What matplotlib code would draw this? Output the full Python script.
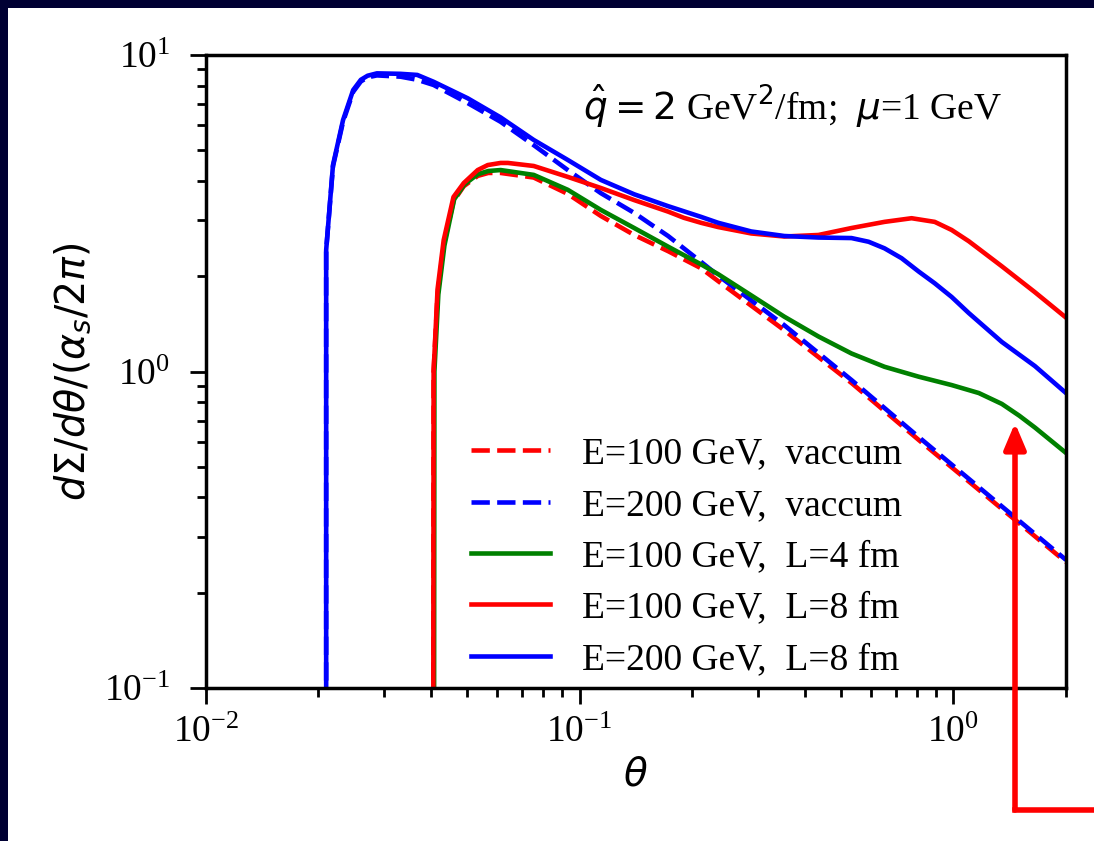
import matplotlib
matplotlib.use('Agg')
import matplotlib.pyplot as plt
from matplotlib.lines import Line2D
from matplotlib.patches import Rectangle, FancyArrowPatch

# curve values
theta_vac200 = [0.0210, 0.0210, 0.0219, 0.0233, 0.0248, 0.0260, 0.0271, 0.0287, 0.0332, 0.0368, 0.0407,
                0.0502, 0.0615, 0.0754, 0.0930, 0.114, 0.140, 0.155, 0.1725, 0.2113, 0.2348,
                0.3529, 0.5337, 0.807, 2.0]
vac200 = [0.05, 2.42, 4.45, 6.15, 7.65, 8.25, 8.5, 8.62, 8.54, 8.35, 8.04,
          7.05, 6.15, 5.19, 4.33, 3.66, 3.17, 2.92, 2.68, 2.22, 2.01,
          1.40, 0.94, 0.621, 0.254]

theta_vac100 = [0.0406, 0.0407, 0.0417, 0.0433, 0.0460, 0.0490, 0.0534, 0.0570, 0.0615, 0.0754,
                0.0930, 0.114, 0.140, 0.1725, 0.2113, 0.2348, 0.3529, 0.5337, 0.807, 2.0]
vac100 = [0.05, 1.0, 1.75, 2.5, 3.45, 3.85, 4.15, 4.24, 4.24, 4.10,
          3.64, 3.10, 2.70, 2.40, 2.12, 1.93, 1.35, 0.92, 0.608, 0.25]

theta_L4 = [0.0408, 0.0409, 0.0419, 0.0435, 0.0462, 0.0492, 0.0534, 0.0570, 0.0615, 0.0754,
            0.0930, 0.114, 0.140, 0.1725, 0.2113, 0.2348, 0.2878, 0.3529, 0.4355, 0.5337,
            0.654, 0.807, 0.989, 1.169, 1.347, 1.50, 1.652, 2.0]
L4_100 = [0.05, 1.0, 1.75, 2.5, 3.5, 3.9, 4.2, 4.3, 4.33, 4.18,
          3.75, 3.24, 2.84, 2.48, 2.18, 2.03, 1.74, 1.49, 1.29, 1.14,
          1.035, 0.963, 0.906, 0.855, 0.79, 0.725, 0.665, 0.553]

theta_L8_100 = [0.0406, 0.0407, 0.0417, 0.0433, 0.0460, 0.0490, 0.0534, 0.0568, 0.0615, 0.0643,
                0.0754, 0.0930, 0.114, 0.140, 0.1725, 0.190, 0.2113, 0.2348, 0.2878, 0.3529,
                0.4355, 0.5337, 0.654, 0.7727, 0.891, 0.989, 1.099, 1.347, 1.652, 2.0]
L8_100 = [0.05, 1.0, 1.82, 2.6, 3.56, 3.94, 4.33, 4.49, 4.56, 4.56,
          4.46, 4.12, 3.80, 3.48, 3.20, 3.06, 2.95, 2.86, 2.73, 2.67,
          2.70, 2.84, 2.97, 3.05, 2.97, 2.80, 2.58, 2.15, 1.78, 1.48]

theta_L8_200 = [0.0210, 0.0210, 0.0219, 0.0233, 0.0248, 0.0260, 0.0271, 0.0287, 0.0332, 0.0368, 0.0407,
                0.0502, 0.0615, 0.0754, 0.0930, 0.114, 0.140, 0.1725, 0.2113, 0.2348, 0.2878,
                0.3529, 0.4355, 0.5337, 0.593, 0.654, 0.7266, 0.807, 0.891, 0.989, 1.099,
                1.347, 1.652, 2.0]
L8_200 = [0.05, 2.42, 4.49, 6.23, 7.75, 8.35, 8.6, 8.75, 8.72, 8.65, 8.23,
          7.30, 6.35, 5.39, 4.66, 4.03, 3.63, 3.33, 3.08, 2.95, 2.77,
          2.68, 2.65, 2.64, 2.57, 2.45, 2.28, 2.07, 1.90, 1.72, 1.53,
          1.24, 1.04, 0.855]

labels = ['E=100 GeV,  vaccum', 'E=200 GeV,  vaccum',
          'E=100 GeV,  L=4 fm', 'E=100 GeV,  L=8 fm', 'E=200 GeV,  L=8 fm']

plt.rcParams['font.family'] = ['Liberation Serif', 'DejaVu Serif']
plt.rcParams['mathtext.fontset'] = 'dejavusans'

W, H = 1094, 841
fig = plt.figure(figsize=(W / 100, H / 100), dpi=100)
fig.patch.set_facecolor('#000033')
# white slide panel
fig.add_artist(Rectangle((8 / W, 0), 1, 1 - 8 / H, transform=fig.transFigure,
                         facecolor='white', edgecolor='none', zorder=0))

ax = fig.add_axes([205.7 / W, 1 - 688 / H, (1066 - 205.7) / W, (688 - 55) / H])
ax.set_xscale('log')
ax.set_yscale('log')

lw = 3.3
dash = (0, (4.0, 1.6))
ax.plot(theta_vac100, vac100, color='red', lw=lw, ls=dash, label=labels[0])
ax.plot(theta_vac200, vac200, color='blue', lw=lw, ls=dash, label=labels[1])
ax.plot(theta_L4, L4_100, color='green', lw=lw, label=labels[2])
ax.plot(theta_L8_100, L8_100, color='red', lw=lw, label=labels[3])
ax.plot(theta_L8_200, L8_200, color='blue', lw=lw, label=labels[4])

ax.set_xlim(0.01, 2)
ax.set_ylim(0.1, 10)

for s in ax.spines.values():
    s.set_linewidth(2.5)
ax.tick_params(which='major', length=11.5, width=2, labelsize=27, pad=14)
ax.tick_params(which='minor', length=6.5, width=2)
ax.tick_params(axis='x', which='major', pad=8)

ax.set_xlabel(r'$\theta$', fontsize=28, labelpad=6)
ax.set_ylabel(r'$d\Sigma/d\theta/(\alpha_s/2\pi)$', fontsize=28.5, labelpad=8)

ax.text(0.4386, 0.897, r'$\hat{q}=2$ GeV$^2$/fm;  $\mu$=1 GeV', transform=ax.transAxes,
        fontsize=27, ha='left', va='baseline')

ax.legend(loc='lower left', bbox_to_anchor=(0.278, -0.024), frameon=False, fontsize=27,
          handlelength=2.1, handletextpad=0.85, labelspacing=0.45, borderaxespad=0.3)

# red arrow pointing at the L=4 fm curve
fig.add_artist(Line2D([1.0, 1015 / W], [1 - 810 / H, 1 - 810 / H], transform=fig.transFigure,
                      color='red', lw=4, solid_capstyle='projecting'))
fig.add_artist(FancyArrowPatch((1015 / W, 1 - 810 / H), (1015 / W, 1 - 423 / H),
                               transform=fig.transFigure, color='red', lw=4,
                               arrowstyle='-|>,head_length=1.3,head_width=0.55',
                               mutation_scale=12, shrinkA=0, shrinkB=0))

fig.savefig('out.png', dpi=100, facecolor=fig.get_facecolor())
